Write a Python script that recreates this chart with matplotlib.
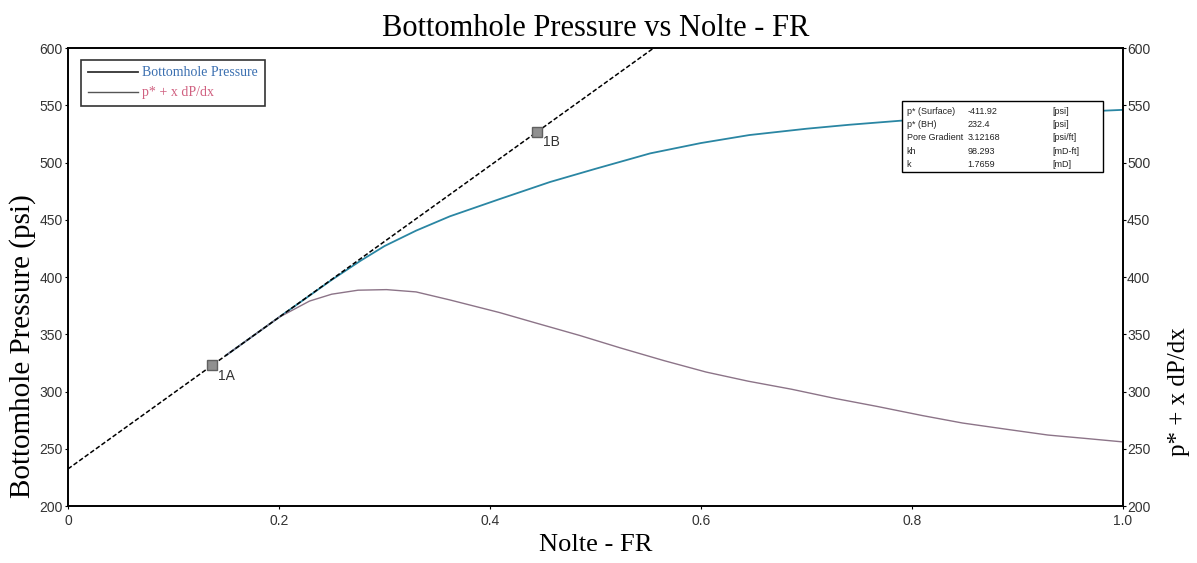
#Bottomhole pressure vs Nolte FR, with tangent line and G-function style table
from matplotlib import pyplot as plt
from matplotlib.patches import Rectangle
import numpy as np

#Bottomhole pressure (blue)
bhp_x = [0.15, 0.20, 0.25, 0.277, 0.30, 0.33, 0.362, 0.409, 0.457, 0.50, 0.552,
         0.60, 0.646, 0.70, 0.741, 0.789, 0.85, 0.90, 0.95, 1.00]
bhp_y = [331.7, 364.8, 397.5, 414.0, 427.0, 440.5, 453.0, 468.0, 483.0, 494.5, 508.0,
         517.0, 524.0, 529.5, 533.0, 536.5, 540.0, 542.0, 544.0, 546.0]

#p* + x dP/dx (purple)
sup_x = [0.15, 0.20, 0.229, 0.25, 0.275, 0.302, 0.33, 0.362, 0.409, 0.443, 0.485,
         0.524, 0.565, 0.605, 0.645, 0.686, 0.727, 0.767, 0.81, 0.848, 0.89, 0.929,
         0.965, 1.00]
sup_y = [331.7, 364.8, 379.0, 385.0, 388.5, 389.0, 387.0, 380.0, 369.0, 360.0, 349.0,
         338.0, 327.0, 317.0, 309.0, 302.0, 294.0, 287.0, 279.0, 272.5, 267.0, 262.0,
         259.0, 256.0]

#tangent line through 1A / 1B
p_bh = 232.4
tan_slope = 662.0
tan_x = [0.0, 0.6]
pts_x = [0.137, 0.445]
pts_lbl = ['1A', '1B']

table_rows = [('p* (Surface)', '-411.92', '[psi]'),
              ('p* (BH)', '232.4', '[psi]'),
              ('Pore Gradient', '3.12168', '[psi/ft]'),
              ('kh', '98.293', '[mD-ft]'),
              ('k', '1.7659', '[mD]')]

serif = ['Liberation Serif', 'DejaVu Serif']
sans = ['Liberation Sans', 'DejaVu Sans']

fig = plt.figure(figsize=(11.97, 5.63), dpi=100)
ax = fig.add_axes([0.0568, 0.1012, 0.8812, 0.8135])

ax.plot(bhp_x, bhp_y, color='#2a86a3', lw=1.3, zorder=2, label='Bottomhole Pressure')
ax.plot(sup_x, sup_y, color='#8c7488', lw=1.0, zorder=2, label='p* + x dP/dx')
tx = np.array(tan_x)
ax.plot(tx, p_bh + tan_slope*tx, color='black', lw=1.1, ls=(0, (3, 1.5)), zorder=3)

for px, lb in zip(pts_x, pts_lbl):
    py = p_bh + tan_slope*px
    ax.plot(px, py, marker='s', ms=7, color='#909090', mec='#606060', zorder=4)
    ax.text(px + 0.005, py - 3, lb, fontsize=10, family=sans, color='#333333',
            ha='left', va='top', zorder=5)

ax.set_xlim(0, 1)
ax.set_ylim(200, 600)
ax.set_xticks([0, 0.2, 0.4, 0.6, 0.8, 1.0])
ax.set_xticklabels(['0', '0.2', '0.4', '0.6', '0.8', '1.0'])
ax.set_yticks(range(200, 601, 50))
for t in ax.get_xticklabels() + ax.get_yticklabels():
    t.set_family(sans)
    t.set_fontsize(10)
    t.set_color('#333333')
ax.tick_params(length=2, pad=2)
ax.tick_params(axis='x', pad=4)

ax2 = ax.twinx()
ax2.set_ylim(200, 600)
ax2.set_yticks(range(200, 601, 50))
for t in ax2.get_yticklabels():
    t.set_family(sans)
    t.set_fontsize(10)
    t.set_color('#333333')
ax2.tick_params(length=2, pad=1)
for a in (ax, ax2):
    for s in a.spines.values():
        s.set_linewidth(1.2)

ax.set_title('Bottomhole Pressure vs Nolte - FR', family=serif, fontsize=22, pad=9)
ax.set_xlabel('Nolte - FR', family=serif, fontsize=19, labelpad=4)
ax.set_ylabel('Bottomhole Pressure (psi)', family=serif, fontsize=21)
ax.yaxis.set_label_coords(-0.030, 0.35)
ax2.set_ylabel('p* + x dP/dx', family=serif, fontsize=18)
ax2.yaxis.set_label_coords(1.043, 0.25)

leg = ax.legend(loc='upper left', bbox_to_anchor=(0.006, 0.99), frameon=True,
                fancybox=False, edgecolor='black', prop={'family': serif, 'size': 10},
                handlelength=3.6, handletextpad=0.3, borderpad=0.5, labelspacing=0.5)
leg.get_frame().set_linewidth(1.2)
leg.get_lines()[0].set_color('#333333')
leg.get_lines()[1].set_color('#555555')
leg.get_texts()[0].set_color('#3a6fb0')
leg.get_texts()[1].set_color('#d06080')

#parameter table, on top of the blue curve
x0, x1, ytop, ybot = 0.791, 0.981, 0.884, 0.729
ax.add_patch(Rectangle((x0, ybot), x1 - x0, ytop - ybot, transform=ax.transAxes,
                       facecolor='white', edgecolor='black', lw=1.0, zorder=6))
dy = (ytop - ybot)/5.3
for i, (a, b, c) in enumerate(table_rows):
    yy = ytop - 0.012 - dy*i
    for xx, s in zip([x0 + 0.004, x0 + 0.062, x0 + 0.142], [a, b, c]):
        ax.text(xx, yy, s, transform=ax.transAxes, fontsize=6.5, family=sans,
                va='top', ha='left', color='#222222', zorder=7)

plt.savefig('out.png', dpi=100)
